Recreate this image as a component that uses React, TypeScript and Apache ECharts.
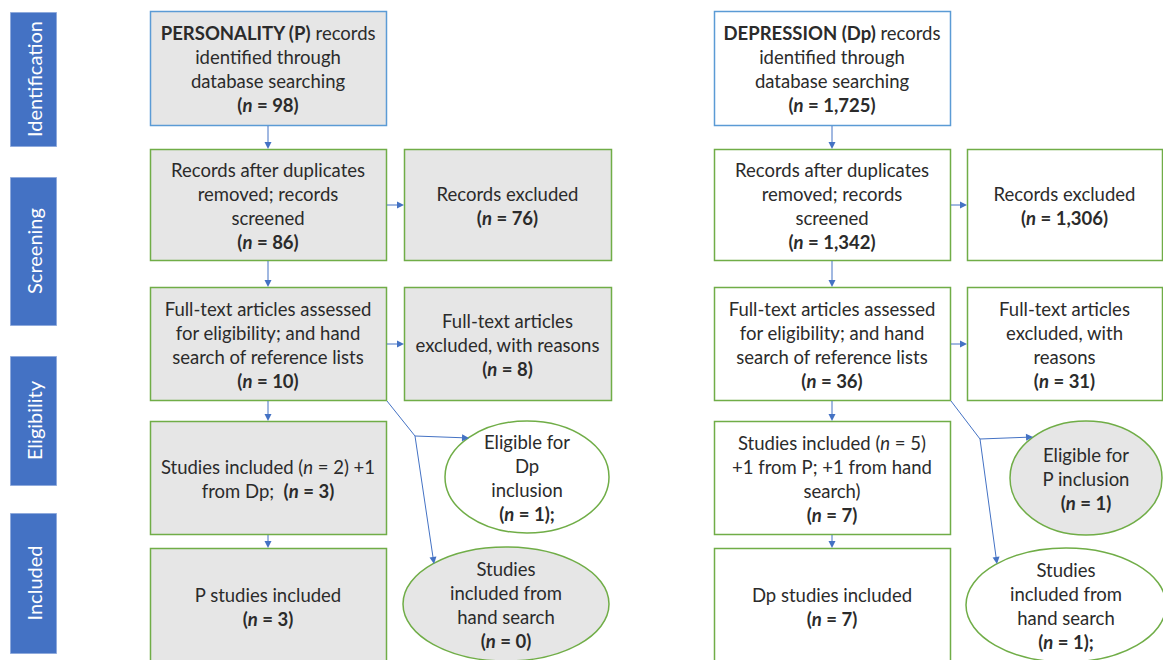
import React, { useEffect, useRef } from 'react';
import * as echarts from 'echarts';

// ---------- data ----------
const stageLabels = ['Identification', 'Screening', 'Eligibility', 'Included'];

const pMainTexts = [
  '{b|PERSONALITY (P)} records\nidentified through\ndatabase searching\n',
  'Records after duplicates\nremoved; records\nscreened\n',
  'Full-text articles assessed\nfor eligibility; and hand\nsearch of reference lists\n',
  'Studies included ({i|n} = 2) +1\nfrom Dp;  ',
  'P studies included\n',
];
const pMainCounts = ['98', '86', '10', '3', '3'];
const pSideTexts = ['Records excluded\n', 'Full-text articles\nexcluded, with reasons\n'];
const pSideCounts = ['76', '8'];
const pOvalTexts = ['Eligible for\nDp\ninclusion\n', 'Studies\nincluded from\nhand search\n'];
const pOvalCounts = ['1', '0'];
const pOvalSuffix = [';', ''];

const dpMainTexts = [
  '{b|DEPRESSION (Dp)} records\nidentified through\ndatabase searching\n',
  'Records after duplicates\nremoved; records\nscreened\n',
  'Full-text articles assessed\nfor eligibility; and hand\nsearch of reference lists\n',
  'Studies included ({i|n} = 5)\n+1 from P; +1 from hand\nsearch)\n',
  'Dp studies included\n',
];
const dpMainCounts = ['1,725', '1,342', '36', '7', '7'];
const dpSideTexts = ['Records excluded\n', 'Full-text articles\nexcluded, with\nreasons\n'];
const dpSideCounts = ['1,306', '31'];
const dpOvalTexts = ['Eligible for\nP inclusion\n', 'Studies\nincluded from\nhand search\n'];
const dpOvalCounts = ['1', '1'];
const dpOvalSuffix = ['', ';'];

// ---------- styling / layout ----------
const FONT = 'Lato, "Open Sans", sans-serif';
const FS = 18.5;
const LH = 24;
const TXT = '#2b2b2b';
const GRAY = '#e6e6e6';
const WHITE = '#ffffff';
const GREEN = '#70ad47';
const BLUEB = '#5b9bd5';
const ARROW = '#4472c4';
const STAGE = '#4472c4';

const rowY = [11, 149, 287, 421, 548];
const rowH = [114, 111, 113, 113, 116];
const stageY = [12, 177, 356, 513];
const stageH = [134, 148, 129, 140];

const rich = {
  b: { fontFamily: FONT, fontSize: FS, lineHeight: LH, fontWeight: 'bold', fill: TXT },
  i: { fontFamily: FONT, fontSize: FS, lineHeight: LH, fontStyle: 'italic', fill: TXT },
  bi: { fontFamily: FONT, fontSize: FS, lineHeight: LH, fontWeight: 'bold', fontStyle: 'italic', fill: TXT },
};

const nTag = (c: string, suffix = '') => `{b|(}{bi|n}{b| = ${c})${suffix}}`;

function textEl(x: number, y: number, text: string) {
  return {
    type: 'text',
    x,
    y,
    z: 10,
    style: {
      text,
      rich,
      fill: TXT,
      fontFamily: FONT,
      fontSize: FS,
      lineHeight: LH,
      align: 'center',
      verticalAlign: 'middle',
      textAlign: 'center',
      textVerticalAlign: 'middle',
    },
  };
}

function box(x: number, y: number, w: number, h: number, fill: string, stroke: string, text: string) {
  return [
    { type: 'rect', shape: { x: x + 0.5, y: y + 0.5, width: w, height: h }, style: { fill, stroke, lineWidth: 1.5 } },
    textEl(x + w / 2, y + h / 2 + 1, text),
  ];
}

function oval(cx: number, cy: number, rx: number, ry: number, fill: string, text: string) {
  return [
    { type: 'ellipse', shape: { cx, cy, rx, ry }, style: { fill, stroke: GREEN, lineWidth: 1.5 } },
    textEl(cx, cy + 1, text),
  ];
}

function seg(x1: number, y1: number, x2: number, y2: number) {
  return { type: 'line', z: 5, shape: { x1, y1, x2, y2 }, style: { stroke: ARROW, lineWidth: 1 } };
}

function arrow(x1: number, y1: number, x2: number, y2: number) {
  const dx = x2 - x1;
  const dy = y2 - y1;
  const len = Math.sqrt(dx * dx + dy * dy);
  const ux = dx / len;
  const uy = dy / len;
  const L = 7;
  const W = 3.5;
  const bx = x2 - ux * L;
  const by = y2 - uy * L;
  return [
    seg(x1, y1, bx, by),
    {
      type: 'polygon',
      z: 5,
      shape: { points: [[x2, y2], [bx - uy * W, by + ux * W], [bx + uy * W, by - ux * W]] },
      style: { fill: ARROW },
    },
  ];
}

function column(
  x: number, w: number, sideX: number, sideW: number,
  mainTexts: string[], mainCounts: string[], mainFill: string,
  sideTexts: string[], sideCounts: string[], sideFill: string,
) {
  const els: any[] = [];
  mainTexts.forEach((t, i) => {
    els.push(...box(x, rowY[i], w, rowH[i], mainFill, i === 0 ? BLUEB : GREEN, t + nTag(mainCounts[i])));
    if (i > 0) {
      els.push(...arrow(x + w / 2, rowY[i - 1] + rowH[i - 1] + 1, x + w / 2, rowY[i]));
    }
  });
  sideTexts.forEach((t, j) => {
    const r = j + 1;
    els.push(...box(sideX, rowY[r], sideW, rowH[r], sideFill, GREEN, t + nTag(sideCounts[j])));
    const cy = rowY[r] + rowH[r] / 2 + 0.5;
    els.push(...arrow(x + w + 1, cy, sideX, cy));
  });
  return els;
}

export default function App() {
  const ref = useRef<HTMLDivElement>(null);
  useEffect(() => {
    document.body.style.margin = '0';
    if (!ref.current) return;
    const chart = echarts.init(ref.current, undefined, { renderer: 'svg' });

    const els: any[] = [];
    // stage labels
    stageLabels.forEach((s, i) => {
      els.push({
        type: 'rect',
        shape: { x: 10.5, y: stageY[i] + 0.5, width: 46, height: stageH[i] },
        style: { fill: STAGE, stroke: '#8faadc', lineWidth: 1 },
      });
      els.push({
        type: 'text',
        x: 34,
        y: stageY[i] + stageH[i] / 2,
        rotation: Math.PI / 2,
        style: {
          text: s,
          fill: '#ffffff',
          fontFamily: FONT,
          fontSize: 20,
          align: 'center',
          verticalAlign: 'middle',
          textAlign: 'center',
          textVerticalAlign: 'middle',
        },
      });
    });

    // personality column
    els.push(...column(150, 236, 404, 207, pMainTexts, pMainCounts, GRAY, pSideTexts, pSideCounts, GRAY));
    // depression column
    els.push(...column(714, 236, 967, 195, dpMainTexts, dpMainCounts, WHITE, dpSideTexts, dpSideCounts, WHITE));

    // ovals (personality)
    els.push(...oval(527, 477, 82, 56, WHITE, pOvalTexts[0] + nTag(pOvalCounts[0], pOvalSuffix[0])));
    els.push(...oval(506, 604, 103, 57, GRAY, pOvalTexts[1] + nTag(pOvalCounts[1], pOvalSuffix[1])));
    // ovals (depression)
    els.push(...oval(1086, 478, 76, 57, GRAY, dpOvalTexts[0] + nTag(dpOvalCounts[0], dpOvalSuffix[0])));
    els.push(...oval(1066, 605, 100, 57, WHITE, dpOvalTexts[1] + nTag(dpOvalCounts[1], dpOvalSuffix[1])));

    // connectors to ovals
    els.push(seg(387, 401, 415, 436));
    els.push(...arrow(415, 436, 469, 438));
    els.push(...arrow(415, 436, 434, 564));
    els.push(seg(951, 401, 980, 439));
    els.push(...arrow(980, 439, 1033, 437));
    els.push(...arrow(980, 439, 997, 564));

    chart.setOption({
      animation: false,
      backgroundColor: '#ffffff',
      graphic: { elements: els },
    });
    return () => chart.dispose();
  }, []);
  return <div ref={ref} style={{ width: 1163, height: 660 }} />;
}
